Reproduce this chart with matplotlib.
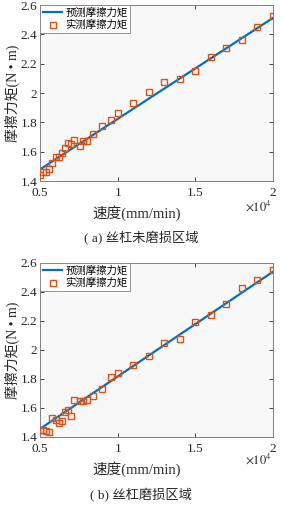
import matplotlib
matplotlib.use("Agg")
import matplotlib.pyplot as plt
import numpy as np

plt.rcParams['font.family'] = ['Liberation Serif', 'Noto Sans CJK SC', 'DejaVu Sans']
plt.rcParams['mathtext.fontset'] = 'stix'

# speeds (mm/min)
speed = [5000, 5200, 5400, 5600, 5800, 6000, 6200, 6400, 6600, 6800, 7000, 7200,
         7600, 7800, 8000, 8400, 9000, 9600, 10000, 11000, 12000, 13000, 14000,
         15000, 16000, 17000, 18000, 19000, 20000]

measured_a = [1.44, 1.463, 1.463, 1.482, 1.52, 1.561, 1.561, 1.593, 1.623, 1.661, 1.652, 1.68,
              1.639, 1.675, 1.675, 1.72, 1.775, 1.816, 1.862, 1.934, 2.007, 2.073, 2.098,
              2.15, 2.243, 2.309, 2.361, 2.448, 2.525]
measured_b = [1.448, 1.446, 1.443, 1.436, 1.533, 1.517, 1.499, 1.512, 1.574, 1.584, 1.545, 1.655,
              1.646, 1.65, 1.655, 1.682, 1.728, 1.814, 1.843, 1.896, 1.956, 2.048, 2.077,
              2.19, 2.239, 2.315, 2.43, 2.481, 2.552]

pred_speed = [5000, 20000]
predicted_a = [1.479, 2.512]
predicted_b = [1.456, 2.54]

legend_labels = ['预测摩擦力矩', '实测摩擦力矩']
xlabel = '速度(mm/min)'
ylabel = '摩擦力矩(N • m)'
captions = ['( a) 丝杠未磨损区域', '( b) 丝杠磨损区域']
xticks = [5000, 10000, 15000, 20000]
xticklabels = ['0.5', '1', '1.5', '2']
yticks = [1.4, 1.6, 1.8, 2.0, 2.2, 2.4, 2.6]
yticklabels = ['1.4', '1.6', '1.8', '2', '2.2', '2.4', '2.6']

W, H = 284, 507
fig = plt.figure(figsize=(W / 100, H / 100), dpi=100)

cjk = ['Noto Sans CJK SC', 'DejaVu Sans']
serif_cjk = ['Liberation Serif', 'Noto Sans CJK SC']

def px_axes(left, top, right, bottom):
    return [left / W, 1 - bottom / H, (right - left) / W, (bottom - top) / H]

layouts = [
    dict(rect=px_axes(40, 5, 273, 181), meas=measured_a, pred=predicted_a,
         xl_y=213, x10_y=206, cap_y=238, cap=captions[0]),
    dict(rect=px_axes(40, 263, 273, 437), meas=measured_b, pred=predicted_b,
         xl_y=469, x10_y=459, cap_y=495, cap=captions[1]),
]

for L in layouts:
    ax = fig.add_axes(L['rect'])
    ax.set_facecolor('#f8f8f8')
    ax.plot(pred_speed, L['pred'], color='#0072bd', lw=1.6, label=legend_labels[0], zorder=2)
    ax.plot(speed, L['meas'], ls='none', marker='s', ms=4.2, mfc='none', mec='#d95319',
            mew=1.0, label=legend_labels[1], zorder=3)
    ax.set_xlim(5000, 20000)
    ax.set_ylim(1.4, 2.6)
    ax.set_xticks(xticks)
    ax.set_xticklabels(xticklabels)
    ax.set_yticks(yticks)
    ax.set_yticklabels(yticklabels)
    ax.tick_params(direction='in', length=3, width=0.6, colors='#262626',
                   labelsize=9.5, top=True, right=True)
    ax.tick_params(axis='x', pad=4)
    ax.tick_params(axis='y', pad=2)
    for s in ax.spines.values():
        s.set_color('#808080')
        s.set_linewidth(0.7)
    leg = ax.legend(loc='upper left', prop={'family': cjk, 'size': 7.5},
                    frameon=True, fancybox=False, borderpad=0.25, labelspacing=0.2,
                    handlelength=1.9, handletextpad=0.3, borderaxespad=0.0)
    leg.get_frame().set_edgecolor('#808080')
    leg.get_frame().set_linewidth(0.6)
    leg.get_frame().set_facecolor('white')
    leg.get_frame().set_alpha(1)
    ax.set_ylabel(ylabel, family=serif_cjk, fontsize=10, color='#262626', labelpad=0.5)
    fig.text(137 / W, 1 - L['xl_y'] / H, xlabel, family=serif_cjk, fontsize=10.5,
             color='#262626', ha='center', va='center')
    fig.text(272 / W, 1 - L['x10_y'] / H, r'$\times 10^4$', fontsize=9,
             color='#262626', ha='right', va='center')
    fig.text(141 / W, 1 - L['cap_y'] / H, L['cap'], family=serif_cjk, fontsize=9.5,
             color='#262626', ha='center', va='center')

fig.savefig('out.png', dpi=100)
